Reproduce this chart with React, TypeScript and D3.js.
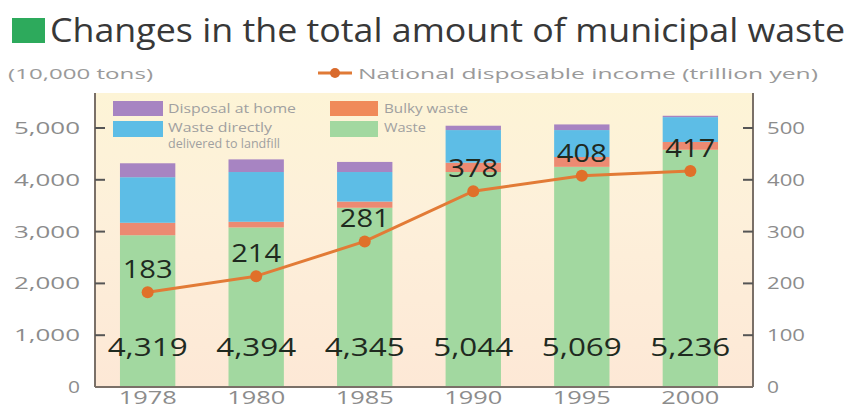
import React from "react";
import * as d3 from "d3";

const years = ["1978", "1980", "1985", "1990", "1995", "2000"];
const waste = [2930, 3080, 3460, 4150, 4250, 4580];
const bulky = [240, 110, 120, 180, 190, 150];
const landfill = [880, 960, 570, 630, 520, 480];
const home = [269, 244, 195, 84, 109, 26];
const totals = ["4,319", "4,394", "4,345", "5,044", "5,069", "5,236"];
const income = [183, 214, 281, 378, 408, 417];
const leftTicks = [0, 1000, 2000, 3000, 4000, 5000];
const rightTicks = [0, 100, 200, 300, 400, 500];

const seriesKeys = ["waste", "bulky", "landfill", "home"];
const seriesColors: Record<string, string> = {
  waste: "#a2d8a0",
  bulky: "#ec8a72",
  landfill: "#5dbde6",
  home: "#a784c2",
};

export default function App() {
  const W = 854, H = 408;
  const x = d3.scaleBand<string>().domain(years).range([95, 743]).paddingInner(0.49).paddingOuter(0.23);
  const y = d3.scaleLinear().domain([0, 5000]).range([387, 128]);
  const yR = d3.scaleLinear().domain([0, 500]).range([387, 128]);

  const table = years.map((yr, i) => ({
    year: yr,
    waste: waste[i],
    bulky: bulky[i],
    landfill: landfill[i],
    home: home[i],
  }));
  const stacked = d3.stack<any>().keys(seriesKeys)(table);

  const lineGen = d3
    .line<number>()
    .x((_, i) => (x(years[i]) as number) + x.bandwidth() / 2)
    .y((d) => yR(d));

  const font = "'Open Sans', 'Noto Sans', sans-serif";
  const axisColor = "#7a7068";
  const tickText = "#8c8c8c";

  return (
    <svg width={W} height={H} style={{ position: "absolute", left: 0, top: 0, background: "#fff" }}>
      <defs>
        <linearGradient id="bg" x1="0" y1="0" x2="0" y2="1">
          <stop offset="0" stopColor="#fdf4d6" />
          <stop offset="0.4" stopColor="#fdf0da" />
          <stop offset="1" stopColor="#fde8d6" />
        </linearGradient>
      </defs>
      <rect x={0} y={0} width={W} height={H} fill="#ffffff" />
      <rect x={95} y={93} width={658} height={294} fill="url(#bg)" />

      {/* Title */}
      <rect x={12} y={18} width={33} height={25} fill="#2daa5c" />
      <text x={50} y={42} fontFamily={font} fontSize={32} fill="#383838" textLength={795} lengthAdjust="spacingAndGlyphs">
        Changes in the total amount of municipal waste
      </text>

      {/* Units */}
      <text x={8} y={79} fontFamily={font} fontSize={15} fill="#9a9a9a" textLength={145} lengthAdjust="spacingAndGlyphs">
        (10,000 tons)
      </text>
      <line x1={318} x2={352} y1={73} y2={73} stroke="#e07a36" strokeWidth={3} />
      <circle cx={335} cy={73} r={5} fill="#d96a2c" />
      <text x={358} y={79} fontFamily={font} fontSize={15} fill="#9a9a9a" textLength={460} lengthAdjust="spacingAndGlyphs">
        National disposable income (trillion yen)
      </text>

      {/* Bars */}
      {stacked.map((s) => (
        <g key={s.key} fill={seriesColors[s.key]}>
          {s.map((d, i) => (
            <rect
              key={i}
              x={x(years[i]) as number}
              y={y(d[1])}
              width={x.bandwidth()}
              height={y(d[0]) - y(d[1])}
            />
          ))}
        </g>
      ))}

      {/* Legend */}
      <rect x={113} y={101} width={50} height={15} fill={seriesColors.home} />
      <text x={168} y={113} fontFamily={font} fontSize={12} fill="#a0a0a0" textLength={128} lengthAdjust="spacingAndGlyphs">
        Disposal at home
      </text>
      <rect x={113} y={121} width={50} height={16} fill={seriesColors.landfill} />
      <text x={168} y={132} fontFamily={font} fontSize={12} fill="#a0a0a0" textLength={104} lengthAdjust="spacingAndGlyphs">
        Waste directly
      </text>
      <text x={168} y={148} fontFamily={font} fontSize={12} fill="#a0a0a0" textLength={112} lengthAdjust="spacingAndGlyphs">
        delivered to landfill
      </text>
      <rect x={330} y={101} width={48} height={15} fill="#f08a5a" />
      <text x={384} y={113} fontFamily={font} fontSize={12} fill="#a0a0a0" textLength={84} lengthAdjust="spacingAndGlyphs">
        Bulky waste
      </text>
      <rect x={330} y={121} width={48} height={16} fill={seriesColors.waste} />
      <text x={384} y={132} fontFamily={font} fontSize={12} fill="#a0a0a0" textLength={42} lengthAdjust="spacingAndGlyphs">
        Waste
      </text>

      {/* Axes */}
      <line x1={95} x2={95} y1={93} y2={387} stroke={axisColor} strokeWidth={2} />
      <line x1={753} x2={753} y1={93} y2={387} stroke={axisColor} strokeWidth={2} />
      <line x1={95} x2={753} y1={387} y2={387} stroke={axisColor} strokeWidth={2} />
      {leftTicks.map((t) => (
        <g key={"l" + t}>
          {t > 0 && <line x1={95} x2={105} y1={y(t)} y2={y(t)} stroke="#555" strokeWidth={2} />}
          <text x={80} y={y(t) + 6} textAnchor="end" fontFamily={font} fontSize={17} fill={tickText}
            textLength={t === 0 ? 12 : 66} lengthAdjust="spacingAndGlyphs">
            {d3.format(",")(t)}
          </text>
        </g>
      ))}
      {rightTicks.map((t) => (
        <g key={"r" + t}>
          {t > 0 && <line x1={743} x2={753} y1={yR(t)} y2={yR(t)} stroke="#555" strokeWidth={2} />}
          <text x={767} y={yR(t) + 6} fontFamily={font} fontSize={17} fill={tickText}
            textLength={t === 0 ? 12 : 38} lengthAdjust="spacingAndGlyphs">
            {t}
          </text>
        </g>
      ))}
      {years.map((yr) => (
        <text key={yr} x={(x(yr) as number) + x.bandwidth() / 2} y={404} textAnchor="middle" fontFamily={font}
          fontSize={18} fill={tickText} textLength={58} lengthAdjust="spacingAndGlyphs">
          {yr}
        </text>
      ))}

      {/* Total labels */}
      {years.map((yr, i) => (
        <text key={"t" + yr} x={(x(yr) as number) + x.bandwidth() / 2} y={356} textAnchor="middle" fontFamily={font}
          fontSize={25} fill="#1f2a1f" textLength={80} lengthAdjust="spacingAndGlyphs">
          {totals[i]}
        </text>
      ))}

      {/* Line */}
      <path d={lineGen(income) as string} fill="none" stroke="#e27b36" strokeWidth={3} />
      {income.map((v, i) => (
        <circle key={"c" + i} cx={(x(years[i]) as number) + x.bandwidth() / 2} cy={yR(v)} r={6} fill="#e0702a" />
      ))}
      {income.map((v, i) => (
        <text key={"v" + i} x={(x(years[i]) as number) + x.bandwidth() / 2} y={yR(v) - 14} textAnchor="middle"
          fontFamily={font} fontSize={25} fill="#1f2a1f" textLength={50} lengthAdjust="spacingAndGlyphs">
          {v}
        </text>
      ))}
    </svg>
  );
}
